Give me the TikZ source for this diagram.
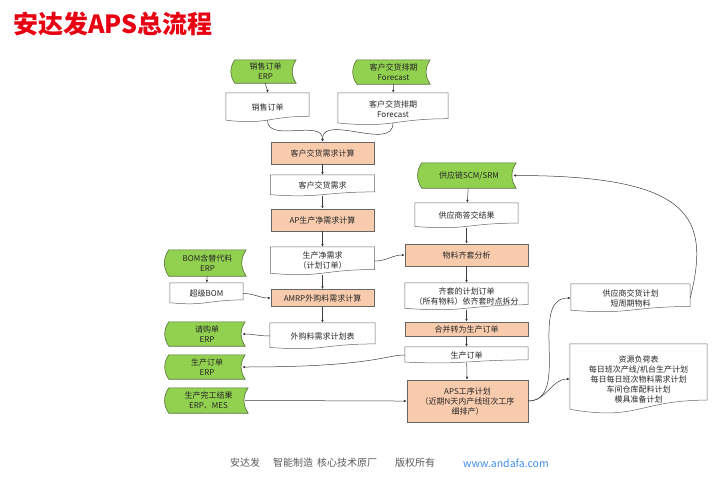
\documentclass[tikz,border=0pt]{standalone}
\usepackage{fontspec}
\setmainfont{Noto Sans CJK SC}
\usetikzlibrary{arrows.meta,calc,backgrounds}
\definecolor{titlered}{RGB}{230,0,18}
\definecolor{storegreen}{RGB}{146,208,80}
\definecolor{storeline}{RGB}{84,110,60}
\definecolor{procfill}{RGB}{248,203,173}
\definecolor{lineg}{RGB}{60,60,60}
\definecolor{footgray}{RGB}{89,89,89}
\definecolor{linkblue}{RGB}{64,140,230}
\newcommand{\storedata}[1]{%
  \path[storebody] (#1.north west) to[bend right=35] (#1.south west)
    -- (#1.south east) to[bend left=35] (#1.north east) -- cycle;}
\newcommand{\docdata}[1]{%
  \path[docbody] (#1.north west) -- (#1.north east) -- ($(#1.north east)!0.8!(#1.south east)$)
    .. controls ($(#1.north)!0.8!(#1.south)$) and ($(#1.north)!1.1!(#1.south)$)
    .. ($(#1.north west)!0.93!(#1.south west)$) -- cycle;}

\begin{document}
\begin{tikzpicture}[x=1pt, y=1pt,
  every node/.style={font=\fontsize{8}{10}\selectfont, text=black!85},
  store/.style={align=center, inner sep=1pt},
  storebody/.style={draw=storeline, fill=storegreen, line width=0.6pt},
  doc/.style={align=center, inner sep=1pt},
  docbody/.style={draw=black!60, fill=white, line width=0.5pt},
  proc/.style={draw=black!60, fill=procfill, align=center, inner sep=1pt, line width=0.5pt},
  flow/.style={-{Latex[length=3pt,width=2.6pt]}, draw=lineg, line width=0.5pt}
]
\useasboundingbox (0,0) rectangle (718,-482);

\node[font=\fontsize{25}{28}\selectfont\bfseries, text=titlered, anchor=west, inner sep=0pt] (title) at (13,-24)
  {安达发APS总流程};

\node[store, minimum width=61pt, minimum height=23pt] (saleerp) at (265.5,-71.5) {销售订单\\ERP};
\node[store, minimum width=73pt, minimum height=24pt] (fcsterp) at (393.5,-72) {客户交货排期\\Forecast};
\node[store, minimum width=94pt, minimum height=25pt] (scm) at (469,-175.5) {供应链SCM/SRM};
\node[store, minimum width=77pt, minimum height=26pt] (bomerp) at (207.5,-263) {BOM含替代料\\ERP};
\node[store, minimum width=76pt, minimum height=24pt] (prerp) at (207,-334) {请购单\\ERP};
\node[store, minimum width=76pt, minimum height=24pt] (poerp) at (207,-367) {生产订单\\ERP};
\node[store, minimum width=79pt, minimum height=25pt] (doneerp) at (208.5,-400.5) {生产完工结果\\ERP、MES};

\node[doc, minimum width=83pt, minimum height=29pt] (saledoc) at (267.5,-107.5) {销售订单};
\node[doc, minimum width=110pt, minimum height=32pt] (fcstdoc) at (393,-109) {客户交货排期\\Forecast};
\node[proc, minimum width=103pt, minimum height=22pt] (cdemcalc) at (322.5,-153) {客户交货需求计算};
\node[doc, minimum width=104pt, minimum height=21pt] (cdem) at (322.5,-185.5) {客户交货需求};
\node[proc, minimum width=103pt, minimum height=22pt] (netcalc) at (322.5,-220) {AP生产净需求计算};
\node[doc, minimum width=104pt, minimum height=28pt] (netdem) at (322.5,-261) {生产净需求\\（计划订单）};
\node[doc, minimum width=73pt, minimum height=21pt] (superbom) at (206.5,-293.5) {超级BOM};
\node[proc, minimum width=103pt, minimum height=17pt] (amrp) at (322.5,-298) {AMRP外购料需求计算};
\node[doc, minimum width=105pt, minimum height=26pt] (buyplan) at (322.5,-336) {外购料需求计划表};

\node[doc, minimum width=103pt, minimum height=25pt] (answer) at (466.5,-215.5) {供应商答交结果};
\node[proc, minimum width=123pt, minimum height=22pt] (kitting) at (466.5,-255) {物料齐套分析};
\node[doc, minimum width=123pt, minimum height=27pt] (kitorder) at (466.5,-296.5)
  {齐套的计划订单\\（所有物料）依齐套时点拆分};
\node[proc, minimum width=123pt, minimum height=14pt] (merge) at (466.5,-329) {合并转为生产订单};
\node[doc, minimum width=123pt, minimum height=16pt] (podoc) at (466.5,-355) {生产订单};
\node[proc, minimum width=121pt, minimum height=42pt] (aps) at (467.5,-401)
  {APS工序计划\\（近期N天内产线班次工序\\细排产）};
\node[doc, minimum width=119pt, minimum height=28pt] (supplan) at (630.5,-298) {供应商交货计划\\短周期物料};
\node[doc, minimum width=137pt, minimum height=70pt] (resload) at (638.5,-379)
  {资源负荷表\\每日班次产线/机台生产计划\\每日每日班次物料需求计划\\车间仓库配料计划\\模具准备计划};

\node[font=\fontsize{10}{12}\selectfont, text=footgray, anchor=west, inner sep=0pt] (footer) at (230,-463)
  {安达发\hspace{13pt}智能制造\hspace{4pt}核心技术原厂\hspace{18pt}版权所有};
\node[font=\fontsize{10.5}{12}\selectfont, text=linkblue, anchor=west, inner sep=0pt] (website) at (463,-463)
  {www.andafa.com};

\begin{scope}[on background layer]
\foreach \n in {saleerp,fcsterp,scm,bomerp,prerp,poerp,doneerp} {\storedata{\n}}
\foreach \n in {saledoc,fcstdoc,cdem,netdem,superbom,buyplan,answer,kitorder,podoc,supplan,resload} {\docdata{\n}}
\end{scope}

\draw[flow] (saleerp.south) to[out=-90,in=90] (saledoc.north);
\draw[flow] (fcsterp) -- (fcstdoc);
\draw[flow] ([yshift=2pt]saledoc.south) to[out=-90,in=90] (cdemcalc.north);
\draw[flow] ([yshift=2pt]fcstdoc.south) to[out=-90,in=90] (cdemcalc.north);
\draw[flow] (cdemcalc) -- (cdem);
\draw[flow] (cdem) -- (netcalc);
\draw[flow] (netcalc) -- (netdem);
\draw[flow] (netdem) -- (amrp);
\draw[flow] (amrp) -- (buyplan);
\draw[flow] (bomerp) -- (superbom);
\draw[flow] (superbom.east) to[out=0,in=180] (amrp.west);
\draw[flow] (buyplan.west) to[out=180,in=0] ([xshift=-3pt]prerp.east);
\draw[flow] (netdem.east) to[out=0,in=180] (kitting.west);
\draw[flow] (scm) -- (answer);
\draw[flow] (answer) -- (kitting);
\draw[flow] (kitting) -- (kitorder);
\draw[flow] (kitorder) -- (merge);
\draw[flow] (merge) -- (podoc);
\draw[flow] (podoc) -- (aps);
\draw[flow] (podoc.west) .. controls +(-20,0) and +(130,0) .. ([xshift=-3pt]poerp.east);
\draw[flow] ([xshift=-3pt]doneerp.east) to[out=0,in=180] (aps.west);
\draw[flow] (aps.east) to[out=0,in=180] (supplan.west);
\draw[flow] (aps.east) to[out=0,in=180] (resload.west);
\draw[flow] (supplan.east) .. controls +(20,80) and +(180,0) .. ([xshift=-3pt]scm.east);
\end{tikzpicture}
\end{document}
